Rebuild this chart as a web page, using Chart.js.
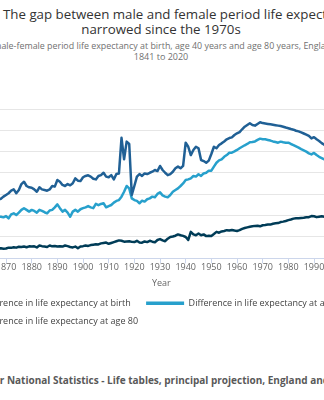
<!DOCTYPE html>
<html>
<head>
<meta charset="utf-8">
<title>Male-female life expectancy gap</title>
<script src="https://cdn.jsdelivr.net/npm/chart.js@4/dist/chart.umd.min.js"></script>
<style>
    html, body { margin: 0; padding: 0; }
    body {
        width: 324px; height: 400px; overflow: hidden; position: relative;
        background: #fff; font-family: 'Open Sans', sans-serif;
    }
    .txt { position: absolute; white-space: nowrap; line-height: 1; }
    #title1 { left: 3px; top: 8px; font-size: 13.3px; color: #333; }
    #title2 { left: 0; width: 322px; text-align: center; top: 22.5px; font-size: 13.3px; color: #333; }
    #sub1 { left: -62px; top: 42px; font-size: 8.9px; color: #707070; }
    #sub2 { left: 0; width: 322px; text-align: center; top: 51.5px; font-size: 9px; color: #707070; }
    #source { left: -82px; top: 374.6px; font-size: 10px; font-weight: bold; color: #595959; }
    #chart { position: absolute; left: -130px; top: 90px; }
</style>
</head>
<body>
<div class="txt" id="title1">The gap between male and female period life expectancy has</div>
<div class="txt" id="title2">narrowed since the 1970s</div>
<div class="txt" id="sub1">Difference in male-female period life expectancy at birth, age 40 years and age 80 years, England and Wales,</div>
<div class="txt" id="sub2">1841 to 2020</div>
<canvas id="chart" width="550" height="250"></canvas>
<div class="txt" id="source">Source: Office for National Statistics - Life tables, principal projection, England and Wales</div>

<script>
// --- DATA (years of life, female minus male) ---
const firstYear = 1841;
const lastYear = 2020;

const gapAtBirth = [
    2.0, 2.1, 2.2, 2.1, 2.3, 2.0, 1.9, 2.1, 1.8,                  // 1841-49
    2.3, 2.2, 2.3, 2.1, 2.2, 2.4, 2.5, 2.4, 2.3, 2.5,             // 1850s
    2.6, 2.5, 2.6, 2.5, 2.6, 2.7, 2.7, 2.75, 2.79, 2.89,          // 1860s
    2.97, 3.05, 3.17, 3.23, 3.05, 3.2, 3.48, 3.59, 3.39, 3.33,    // 1870s
    3.31, 3.23, 3.12, 3.33, 3.23, 3.2, 3.17, 3.23, 3.39, 3.36,    // 1880s
    3.67, 3.59, 3.44, 3.39, 3.48, 3.42, 3.52, 3.75, 3.64, 3.62,   // 1890s
    3.80, 3.86, 3.89, 3.83, 3.73, 3.70, 3.86, 3.90, 4.01, 3.83,   // 1900s
    3.80, 3.90, 3.70, 3.95, 3.98, 5.65, 4.64, 5.47, 5.36, 2.97,   // 1910s
    3.39, 3.83, 3.95, 3.86, 3.98, 3.95, 4.01, 4.06, 4.14, 4.09,   // 1920s
    4.33, 4.14, 4.01, 3.90, 3.95, 4.06, 4.22, 4.30, 4.22, 4.33,   // 1930s
    5.42, 5.23, 4.84, 5.08, 5.23, 5.16, 4.61, 4.56, 4.48, 4.58,   // 1940s
    4.89, 5.23, 5.16, 5.31, 5.39, 5.48, 5.58, 5.64, 5.67, 5.78,   // 1950s
    5.86, 5.92, 6.05, 6.17, 6.25, 6.33, 6.25, 6.22, 6.30, 6.38,   // 1960s
    6.34, 6.32, 6.30, 6.28, 6.26, 6.24, 6.22, 6.20, 6.17, 6.13,   // 1970s
    6.10, 6.06, 6.03, 5.98, 5.95, 5.90, 5.85, 5.80, 5.74, 5.62,   // 1980s
    5.68, 5.58, 5.50, 5.40, 5.32, 5.25, 5.20, 5.10, 5.00, 4.90,   // 1990s
    4.80, 4.70, 4.55, 4.40, 4.30, 4.20, 4.10, 4.00, 3.95, 3.90,   // 2000s
    3.85, 3.80, 3.75, 3.72, 3.68, 3.65, 3.62, 3.60, 3.60, 3.62,   // 2010s
    3.90                                                          // 2020
];

const gapAtAge40 = [
    1.30, 1.35, 1.42, 1.38, 1.50, 1.40, 1.35, 1.45, 1.30,
    1.55, 1.52, 1.58, 1.50, 1.55, 1.62, 1.70, 1.68, 1.65, 1.72,
    1.80, 1.75, 1.82, 1.78, 1.85, 1.90, 1.88, 1.95, 1.95, 1.92,
    1.98, 1.87, 2.06, 2.11, 2.03, 2.14, 2.27, 2.35, 2.27, 2.19,
    2.27, 2.22, 2.14, 2.27, 2.22, 2.16, 2.11, 2.24, 2.27, 2.39,
    2.53, 2.35, 2.19, 2.27, 2.14, 1.95, 2.19, 2.27, 2.19, 2.30,
    2.35, 2.39, 2.45, 2.39, 2.35, 2.55, 2.49, 2.55, 2.58, 2.39,
    2.45, 2.50, 2.61, 2.69, 2.73, 2.89, 3.12, 3.39, 3.28, 2.81,
    2.73, 2.69, 2.58, 2.70, 2.66, 2.77, 2.81, 2.89, 2.86, 3.02,
    3.09, 2.95, 2.89, 2.86, 2.97, 3.12, 3.20, 3.28, 3.39, 3.51,
    3.67, 3.70, 3.75, 3.86, 3.83, 3.94, 3.86, 3.98, 4.01, 4.11,
    4.11, 4.30, 4.48, 4.59, 4.64, 4.76, 4.84, 4.95, 4.95, 5.01,
    5.08, 5.16, 5.23, 5.30, 5.36, 5.44, 5.45, 5.48, 5.55, 5.61,
    5.58, 5.58, 5.55, 5.52, 5.48, 5.45, 5.42, 5.47, 5.44, 5.42,
    5.42, 5.36, 5.31, 5.25, 5.19, 5.12, 5.06, 5.00, 4.92, 4.87,
    4.94, 4.84, 4.76, 4.70, 4.64, 4.60, 4.55, 4.48, 4.40, 4.32,
    4.25, 4.15, 4.05, 3.95, 3.85, 3.78, 3.70, 3.62, 3.55, 3.50,
    3.45, 3.40, 3.36, 3.32, 3.28, 3.25, 3.22, 3.20, 3.20, 3.21,
    3.45
];

const gapAtAge80 = [
    0.30, 0.32, 0.33, 0.31, 0.35, 0.33, 0.30, 0.34, 0.32,
    0.36, 0.35, 0.37, 0.36, 0.38, 0.37, 0.40, 0.39, 0.41, 0.40,
    0.42, 0.41, 0.43, 0.42, 0.44, 0.45, 0.44, 0.46, 0.47, 0.45,
    0.46, 0.50, 0.49, 0.52, 0.50, 0.54, 0.53, 0.55, 0.52, 0.56,
    0.55, 0.56, 0.51, 0.60, 0.57, 0.55, 0.53, 0.60, 0.56, 0.58,
    0.55, 0.57, 0.55, 0.60, 0.57, 0.53, 0.51, 0.55, 0.47, 0.55,
    0.57, 0.60, 0.58, 0.62, 0.64, 0.66, 0.65, 0.70, 0.72, 0.74,
    0.68, 0.72, 0.76, 0.80, 0.84, 0.82, 0.78, 0.79, 0.80, 0.77,
    0.76, 0.82, 0.74, 0.73, 0.79, 0.76, 0.82, 0.78, 0.75, 0.86,
    0.90, 0.84, 0.80, 0.92, 1.00, 1.02, 1.06, 1.12, 1.08, 1.05,
    1.00, 0.86, 1.24, 1.12, 1.08, 1.16, 1.08, 1.12, 1.04, 1.06,
    1.05, 1.14, 1.24, 1.20, 1.26, 1.28, 1.32, 1.30, 1.33, 1.30,
    1.28, 1.32, 1.38, 1.42, 1.45, 1.48, 1.50, 1.52, 1.53, 1.50,
    1.55, 1.56, 1.58, 1.58, 1.62, 1.64, 1.65, 1.70, 1.72, 1.75,
    1.79, 1.82, 1.86, 1.88, 1.88, 1.89, 1.90, 1.92, 1.93, 1.98,
    1.97, 1.93, 1.95, 1.97, 1.95, 1.93, 1.90, 1.88, 1.85, 1.82,
    1.78, 1.74, 1.70, 1.66, 1.62, 1.58, 1.55, 1.52, 1.50, 1.47,
    1.45, 1.42, 1.40, 1.38, 1.36, 1.34, 1.32, 1.30, 1.30, 1.31,
    1.40
];

const seriesNames = [
    'Difference in life expectancy at birth',
    'Difference in life expectancy at age 40',
    'Difference in life expectancy at age 80'
];
const seriesColors = ['#206095', '#27a0cc', '#003c57'];

// x axis categories, one per year of the tables
const years = [];
for (let y = firstYear; y <= lastYear; y++) years.push(y);

// --- CHART ---
Chart.defaults.font.family = "'Open Sans', sans-serif";

const seriesValues = [gapAtBirth, gapAtAge40, gapAtAge80];
const datasets = seriesValues.map((values, i) => ({
    label: seriesNames[i],
    data: values,
    borderColor: seriesColors[i],
    backgroundColor: seriesColors[i],
    borderWidth: 2.5,
    borderJoinStyle: 'round',
    pointRadius: 0,
    pointStyle: 'line',
    tension: 0
}));

// legend sits a little left of the plot edge in the original
const legendNudge = {
    id: 'legendNudge',
    afterLayout(chart) {
        chart.legend.left -= 4;
        chart.legend.right -= 4;
    }
};

new Chart(document.getElementById('chart'), {
    type: 'line',
    data: { labels: years, datasets: datasets },
    plugins: [legendNudge],
    options: {
        responsive: false,
        animation: false,
        layout: { padding: { left: 11.6, right: 29, top: 19, bottom: 3.9 } },
        plugins: {
            tooltip: { enabled: false },
            legend: {
                position: 'bottom',
                align: 'start',
                fullSize: false,
                labels: {
                    usePointStyle: true,
                    pointStyleWidth: 38,
                    padding: 9.4,
                    color: '#444',
                    font: { size: 9 },
                    generateLabels: function(chart) {
                        const items = Chart.defaults.plugins.legend.labels.generateLabels(chart);
                        items.forEach(item => { item.text += '\u2002\u2009'; item.lineWidth = 3.5; });
                        return items;
                    }
                }
            }
        },
        scales: {
            x: {
                type: 'linear',
                min: firstYear,
                max: lastYear,
                ticks: {
                    stepSize: 10, includeBounds: false, autoSkip: false, maxRotation: 0,
                    padding: -1, color: '#666', font: { size: 9 },
                    callback: v => String(v)
                },
                grid: { drawOnChartArea: false, drawTicks: true, tickLength: 5, color: '#ccd6eb' },
                border: { color: '#ccd6eb' },
                title: { display: true, text: 'Year', color: '#666', font: { size: 9 }, padding: { top: 4, bottom: 0 } },
                afterFit: s => { s.height = 31; }
            },
            y: {
                min: 0,
                max: 7,
                ticks: { stepSize: 1, color: '#666', font: { size: 9 } },
                grid: { color: '#e6e6e6', drawTicks: false },
                border: { display: false },
                afterFit: s => { s.width = 50; }
            }
        }
    }
});
</script>
</body>
</html>
